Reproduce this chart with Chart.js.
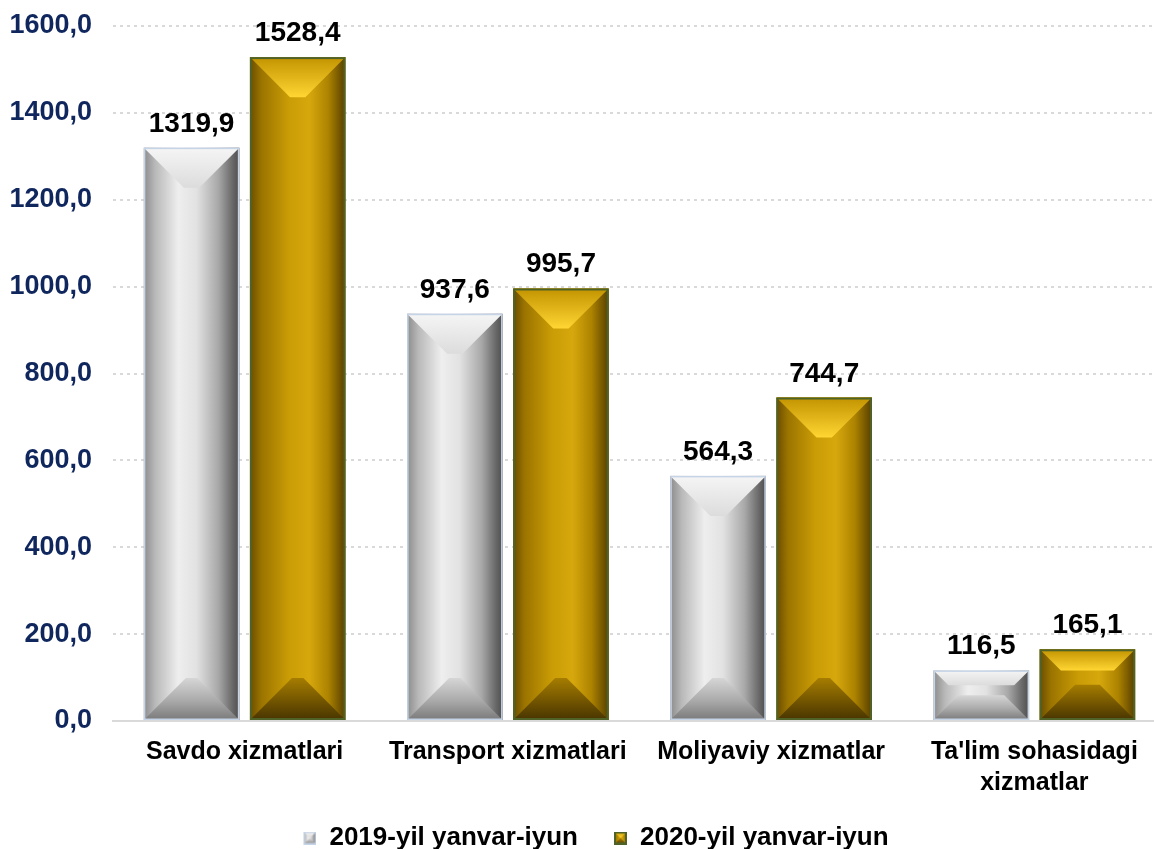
<!DOCTYPE html>
<html><head><meta charset="utf-8">
<script src="https://cdn.jsdelivr.net/npm/chart.js@4.4.0/dist/chart.umd.min.js"></script>
<style>
html,body{margin:0;padding:0;background:#fff;overflow:hidden;width:1154px;height:849px}
canvas{display:block}
</style></head><body>
<canvas id="c" width="1170" height="861"></canvas>
<script>
// ---- data ----
const categories = ['Savdo xizmatlari', 'Transport xizmatlari', 'Moliyaviy xizmatlar', ["Ta'lim sohasidagi", 'xizmatlar']];
const seriesNames = ['2019-yil yanvar-iyun', '2020-yil yanvar-iyun'];
const values2019 = [1319.9, 937.6, 564.3, 116.5];
const values2020 = [1528.4, 995.7, 744.7, 165.1];
const yMin = 0, yMax = 1600, yStep = 200;

// ---- styles ----
const FAMILY = "'Liberation Sans', Arial, sans-serif";
const fmt = v => Number(v).toFixed(1).replace('.', ',');
const palettes = [
  { body: [[0,'#8c8c8c'],[0.12,'#b9b9b9'],[0.36,'#eeeeee'],[0.55,'#e2e2e2'],[0.78,'#a8a8a8'],[0.93,'#686868'],[1,'#4e4e4e']],
    top: [[0,'#f5f5f5'],[1,'#dcdcdc']],
    bottom: [[0,'#d6d6d6'],[0.55,'#a9a9a9'],[1,'#7a7a7a']],
    border: '#c6d4e7', bw: 1.5 },
  { body: [[0,'#6a4d00'],[0.12,'#9b7400'],[0.4,'#c99b05'],[0.62,'#d7a80d'],[0.82,'#ad8300'],[1,'#573f00']],
    top: [[0,'#c29300'],[1,'#ffd633']],
    bottom: [[0,'#a67d00'],[1,'#483400']],
    border: '#4f6228', bw: 2 }
];

function grad(ctx, x0, y0, x1, y1, stops) {
  const g = ctx.createLinearGradient(x0, y0, x1, y1);
  stops.forEach(s => g.addColorStop(s[0], s[1]));
  return g;
}

function drawBevelBar(ctx, L, T, R, B, pal, dtop, dbot) {
  const w = R - L;
  ctx.save();
  ctx.fillStyle = grad(ctx, L, 0, R, 0, pal.body);
  ctx.fillRect(L, T, w, B - T);
  ctx.beginPath();
  ctx.moveTo(L, T); ctx.lineTo(R, T); ctx.lineTo(R - dtop, T + dtop); ctx.lineTo(L + dtop, T + dtop); ctx.closePath();
  ctx.fillStyle = grad(ctx, 0, T, 0, T + dtop, pal.top);
  ctx.fill();
  ctx.beginPath();
  ctx.moveTo(L, B); ctx.lineTo(R, B); ctx.lineTo(R - dbot, B - dbot); ctx.lineTo(L + dbot, B - dbot); ctx.closePath();
  ctx.fillStyle = grad(ctx, 0, B - dbot, 0, B, pal.bottom);
  ctx.fill();
  ctx.lineWidth = pal.bw;
  ctx.strokeStyle = pal.border;
  ctx.strokeRect(L + pal.bw / 2, T + pal.bw / 2, w - pal.bw, B - T - pal.bw);
  ctx.restore();
}

// legend icons: transparent lead-in on the left, 13px bevel box on the right
const ICON_LEAD = 18, ICON = 13;
function makeIcon(pal) {
  const c = document.createElement('canvas');
  c.width = ICON_LEAD + ICON; c.height = ICON;
  const cx = c.getContext('2d');
  drawBevelBar(cx, ICON_LEAD, 0, ICON_LEAD + ICON, ICON, pal, 6, 6);
  return c;
}
const icons = palettes.map(makeIcon);

const bevelPlugin = {
  id: 'bevel',
  afterDatasetsDraw(chart) {
    const ctx = chart.ctx;
    chart.data.datasets.forEach((ds, di) => {
      const meta = chart.getDatasetMeta(di);
      const pal = palettes[di];
      meta.data.forEach((el, i) => {
        const p = el.getProps(['x', 'y', 'base', 'width'], true);
        const L = p.x - p.width / 2, R = p.x + p.width / 2;
        const T = Math.min(p.y, p.base), B = Math.max(p.y, p.base);
        const h = B - T, w = R - L;
        const dtop = Math.min(w * 0.42, h * 0.3);
        const dbot = Math.min(w * 0.44, h * 0.5);
        drawBevelBar(ctx, L, T, R, B, pal, dtop, dbot);
        ctx.save();
        ctx.font = 'bold 28px ' + FAMILY;
        ctx.fillStyle = '#000';
        ctx.textAlign = 'center';
        ctx.textBaseline = 'alphabetic';
        ctx.fillText(fmt(ds.data[i]), p.x, T - 16);
        ctx.restore();
      });
    });
  }
};

new Chart(document.getElementById('c'), {
  type: 'bar',
  data: {
    labels: categories,
    datasets: [
      { label: seriesNames[0], data: values2019, backgroundColor: '#cfcfcf', borderWidth: 0 },
      { label: seriesNames[1], data: values2020, backgroundColor: '#c99b05', borderWidth: 0 }
    ]
  },
  options: {
    responsive: false,
    animation: false,
    datasets: { bar: { categoryPercentage: 0.806, barPercentage: 0.9 } },
    layout: { padding: { top: 0, left: 8, right: 4, bottom: 0 } },
    plugins: {
      tooltip: { enabled: false },
      legend: {
        position: 'bottom',
        labels: {
          usePointStyle: true, pointStyleWidth: ICON_LEAD + ICON, boxHeight: 13, padding: 18,
          color: '#000', font: { size: 26, weight: 'bold', family: FAMILY },
          generateLabels: (chart) => chart.data.datasets.map((ds, i) => ({
            text: ds.label, pointStyle: icons[i], fillStyle: palettes[i].border,
            strokeStyle: palettes[i].border, lineWidth: 0, hidden: false, datasetIndex: i
          }))
        }
      }
    },
    scales: {
      x: {
        grid: { display: false },
        border: { display: true, color: '#d9d9d9', width: 2 },
        ticks: { color: '#000', font: { size: 25, weight: 'bold', family: FAMILY, lineHeight: 1.24 },
                 maxRotation: 0, autoSkip: false, padding: 8 }
      },
      y: {
        min: yMin, max: yMax,
        afterFit: (scale) => { scale.width = 105; scale.paddingTop = 26; scale.paddingBottom = 16; },
        grid: { color: '#d9d9d9', lineWidth: 2, drawTicks: false },
        border: { display: false, dash: [3, 4] },
        ticks: { stepSize: yStep, color: '#10275e', padding: 21,
                 font: { size: 27, weight: 'bold', family: FAMILY }, callback: v => fmt(v) }
      }
    }
  },
  plugins: [bevelPlugin]
});
</script>
</body></html>
